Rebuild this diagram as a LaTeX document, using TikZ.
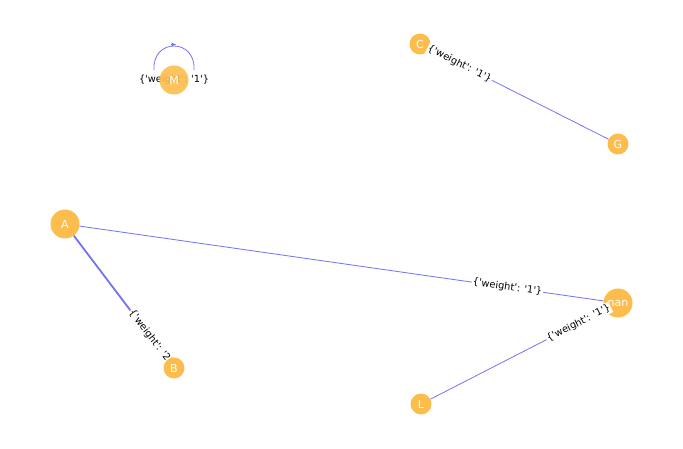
\documentclass[tikz,border=0pt]{standalone}
\usepackage{fontspec}
\setmainfont{DejaVu Sans}[Ligatures=TeXOff]
\usetikzlibrary{arrows.meta,calc}
\definecolor{nodeor}{HTML}{FDBD4C}
\definecolor{edgeb}{HTML}{7373F0}
\begin{document}
\begin{tikzpicture}[x=1pt,y=-1pt,
  big/.style={circle,fill=nodeor,inner sep=0pt,minimum size=29pt,text=white,font=\fontsize{11}{12}\selectfont},
  small/.style={circle,fill=nodeor,inner sep=0pt,minimum size=21pt,text=white,font=\fontsize{11}{12}\selectfont},
  edge/.style={draw=edgeb,line width=0.8pt},
  wlab/.style={fill=white,inner sep=1pt,font=\fontsize{9.8}{10}\selectfont,text=black}]
\useasboundingbox (0,0) rectangle (683,449);
\coordinate (Ap) at (65,224);
\coordinate (Bp) at (174,368);
\node[small] (C) at (420,44) {C};
\node[small] (G) at (618,144) {G};
\node[big] (nan) at (618,303) {nan};
\node[small] (L) at (421,404) {L};
\coordinate (m1) at (154,70);
\coordinate (m2) at (194,70);
\draw[edgeb,line width=0.8pt] (m1) .. controls (152,38) and (196,38) .. (m2);
\draw[edgeb,-{Stealth[length=5pt]}] (171,44.5) -- (176,44.5);
\node[font=\fontsize{9.8}{10}\selectfont] (lab5) at (174,80) {\{'weight': '1'\}};
\node[big,fill opacity=0.9,text opacity=1] (M) at (174,80) {M};
\node[wlab,rotate=-52.9] (lab1) at ($(Ap)!0.8!(Bp)$) {\{'weight': '2'\}};
\node[big] (A) at (Ap) {A};
\node[small] (B) at (Bp) {B};
\draw[edge,line width=1.8pt] (A) -- (lab1);
\draw[edge] (A) -- (nan);
\draw[edge] (C) -- (G);
\draw[edge] (L) -- (nan);
\node[wlab,rotate=-8.1] (lab2) at ($(A)!0.8!(nan)$) {\{'weight': '1'\}};
\node[wlab,rotate=-26.8] (lab3) at ($(C)!0.2!(G)$) {\{'weight': '1'\}};
\node[wlab,rotate=27.1] (lab4) at ($(L)!0.8!(nan)$) {\{'weight': '1'\}};
\end{tikzpicture}
\end{document}
